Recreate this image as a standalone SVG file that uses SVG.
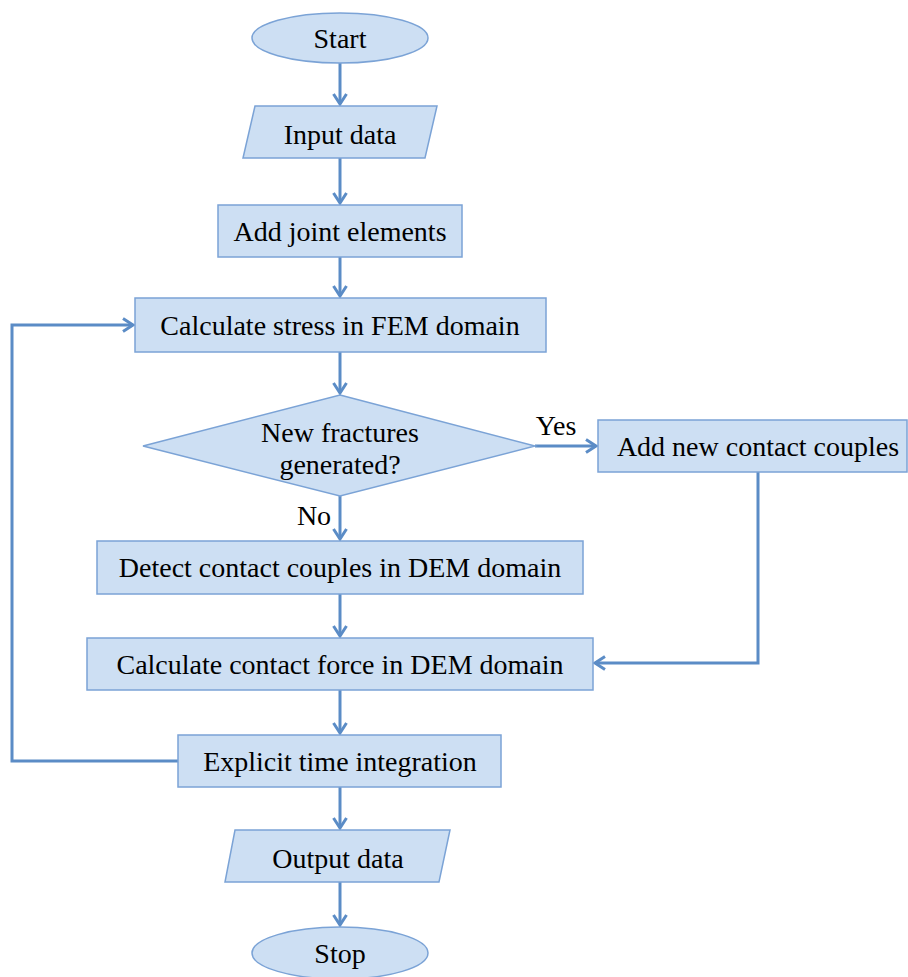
<svg xmlns="http://www.w3.org/2000/svg" width="908" height="977" viewBox="0 0 908 977">
<style>
.n{fill:#cddff3;stroke:#7ba3d6;stroke-width:1.5}
.t{font-family:"Liberation Serif",serif;font-size:28px;fill:#000;text-anchor:middle}
.c{fill:none;stroke:#5b8cc6;stroke-width:3}
</style>
<defs>
<marker id="a" viewBox="0 0 12 16" refX="11" refY="8" markerWidth="12" markerHeight="16" orient="auto" markerUnits="userSpaceOnUse" style="overflow:visible">
<path d="M1,1.5 L11,8 L1,14.5" fill="none" stroke="#5b8cc6" stroke-width="3"/>
</marker>
</defs>
<rect width="908" height="977" fill="#fff"/>
<g id="connectors">
<path class="c" d="M340,63 V104" marker-end="url(#a)"/>
<path class="c" d="M340,158 V203" marker-end="url(#a)"/>
<path class="c" d="M340,257 V296" marker-end="url(#a)"/>
<path class="c" d="M340,352 V393" marker-end="url(#a)"/>
<path class="c" d="M535,446 H596" marker-end="url(#a)"/>
<path class="c" d="M340,496 V539" marker-end="url(#a)"/>
<path class="c" d="M340,594 V636" marker-end="url(#a)"/>
<path class="c" d="M758,472 V663 H595" marker-end="url(#a)"/>
<path class="c" d="M340,690 V733" marker-end="url(#a)"/>
<path class="c" d="M178,761 H12 V325 H133" marker-end="url(#a)"/>
<path class="c" d="M340,787 V828" marker-end="url(#a)"/>
<path class="c" d="M340,882 V925" marker-end="url(#a)"/>
<text class="t" x="556" y="435">Yes</text>
<text class="t" x="314" y="525">No</text>
</g>
<g id="start"><ellipse class="n" cx="340" cy="38" rx="88" ry="25"/><text class="t" x="340" y="48">Start</text></g>
<g id="input"><polygon class="n" points="255,106 437,106 425,158 243,158"/><text class="t" x="340" y="144">Input data</text></g>
<g id="joint"><rect class="n" x="218" y="205" width="244" height="52"/><text class="t" x="340" y="241">Add joint elements</text></g>
<g id="stress"><rect class="n" x="135" y="298" width="411" height="54"/><text class="t" x="340" y="335">Calculate stress in FEM domain</text></g>
<g id="decision"><polygon class="n" points="340,395 535,446 340,496 143,446"/><text class="t" x="340" y="442">New fractures</text><text class="t" x="340" y="474">generated?</text></g>
<g id="addnew"><rect class="n" x="598" y="420" width="309" height="52"/><text class="t" x="758" y="456">Add new contact couples</text></g>
<g id="detect"><rect class="n" x="97" y="541" width="486" height="53"/><text class="t" x="340" y="577">Detect contact couples in DEM domain</text></g>
<g id="force"><rect class="n" x="87" y="638" width="506" height="52"/><text class="t" x="340" y="674">Calculate contact force in DEM domain</text></g>
<g id="explicit"><rect class="n" x="178" y="735" width="323" height="52"/><text class="t" x="340" y="771">Explicit time integration</text></g>
<g id="output"><polygon class="n" points="235,830 450,830 439,882 225,882"/><text class="t" x="338" y="868">Output data</text></g>
<g id="stop"><ellipse class="n" cx="340" cy="953" rx="88" ry="26"/><text class="t" x="340" y="963">Stop</text></g>
</svg>
